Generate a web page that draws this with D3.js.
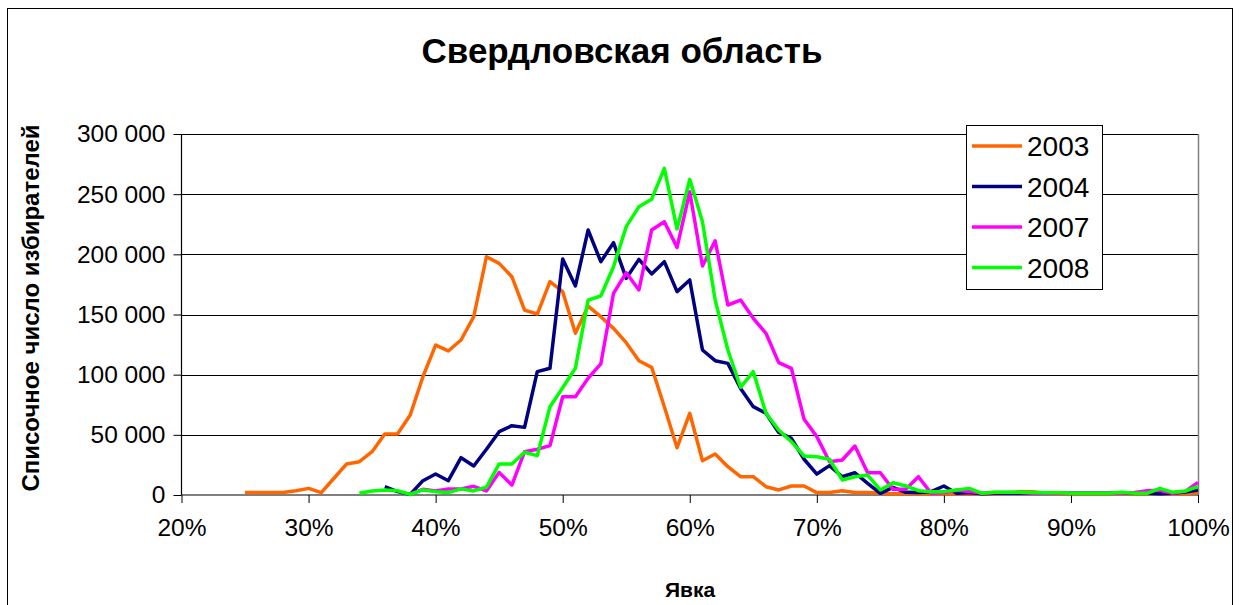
<!DOCTYPE html>
<html>
<head>
<meta charset="utf-8">
<script src="https://cdn.jsdelivr.net/npm/d3@7"></script>
<style>
  body { margin: 0; background: #fff; }
  text { font-family: "Liberation Sans", Arial, sans-serif; }
</style>
</head>
<body>
<svg id="chart"></svg>
<script>
	// явка, %
	var turnout = [25,26,27,28,29,30,31,32,33,34,35,36,37,38,39,40,41,42,43,44,45,46,47,48,49,
		50,51,52,53,54,55,56,57,58,59,60,61,62,63,64,65,66,67,68,69,70,71,72,73,74,
		75,76,77,78,79,80,81,82,83,84,85,86,87,88,89,90,91,92,93,94,95,96,97,98,99,100];

	var years = ["2003", "2004", "2007", "2008"];
	var colors = ["#ff6600", "#000080", "#ff00ff", "#00ff00"];

	// списочное число избирателей по каждому проценту явки (null = нет данных)
	var v2003 = [2000,2000,2000,2000,3600,5500,1900,13900,25800,27700,36000,50700,50700,66500,98300,
		124600,119700,128800,148200,198000,192500,181400,153700,150400,177300,
		169000,134400,157000,148200,138500,126600,111600,106100,73400,39300,
		67900,28500,34100,23500,15200,15200,6900,4200,7500,7500,
		2000,2000,3600,2000,2000,1500,1000,1000,1000,1000,
		1000,1000,1000,1000,1000,1500,2800,2800,1500,1000,
		1000,1000,1000,1000,1000,1000,1000,1000,1000,1000,2000];

	var v2004 = [null,null,null,null,null,null,null,null,null,null,null,6900,2800,500,11900,
		17400,11900,31000,24100,38000,52600,57600,56200,102500,105300,
		196100,173700,220200,193900,209700,180000,195800,183700,193900,169000,
		178700,120500,111600,109400,88600,73400,67900,52000,47100,29700,
		17400,24400,15200,18500,9700,1400,6400,2200,2000,2800,
		7500,1500,2000,1000,1500,1500,1500,1500,1500,1500,
		1500,1500,1500,1500,1500,1500,1500,1000,1500,2500,4200];

	var v2007 = [null,null,null,null,null,null,null,null,null,null,null,null,null,1000,4700,
		3400,5000,5000,7200,3400,18800,8300,36000,38000,41000,
		81700,81700,97000,108900,167600,184700,170400,220200,227100,205800,
		252000,190300,211300,157900,162000,146800,134400,110000,105300,62900,
		48500,27700,29100,40700,18500,18500,4700,4700,15200,1400,
		2000,4000,3000,1500,2000,2000,2000,1500,1500,1500,
		1500,1500,1500,1500,1500,2000,3500,4000,1500,3000,10500];

	var v2008 = [null,null,null,null,null,null,null,null,null,1400,3300,4200,3500,500,4200,
		2800,2000,5100,3400,6500,25800,25800,35500,32700,73400,
		89200,105300,162000,165400,189700,223000,239600,245700,271500,221000,
		262300,227100,162000,120500,89500,102500,67900,54000,44300,32400,
		31800,29700,12500,15200,16600,4200,10200,7500,3600,2800,
		2800,4200,5500,1400,2200,2200,2200,2000,1800,1800,
		1500,1500,1400,1400,2200,1400,1400,5500,2200,3300,6900];

	var xTicks = [20,30,40,50,60,70,80,90,100];
	var yTicks = [0,50000,100000,150000,200000,250000,300000];

	var svgWidth = 1240;
	var svgHeight = 605;
	var plotLeft = 181.5, plotRight = 1198, plotTop = 134, plotBottom = 495;

	var svg = d3.select("#chart")
		.attr("width", svgWidth)
		.attr("height", svgHeight);

	// рамка всей диаграммы
	svg.append("rect")
		.attr("x", 7.5).attr("y", 8.5)
		.attr("width", 1225).attr("height", 620)
		.attr("fill", "#fff").attr("stroke", "#000").attr("stroke-width", 1);

	var xScale = d3.scaleLinear().domain([20, 100]).range([plotLeft, plotRight]);
	var yScale = d3.scaleLinear().domain([0, 300000]).range([plotBottom, plotTop]);

	// сетка
	svg.append("g")
		.selectAll("line")
		.data(yTicks.slice(1))
		.enter()
		.append("line")
		.attr("x1", plotLeft).attr("x2", plotRight)
		.attr("y1", function(d) { return Math.round(yScale(d)) + 0.5; })
		.attr("y2", function(d) { return Math.round(yScale(d)) + 0.5; })
		.attr("stroke", "#000").attr("stroke-width", 1);

	// правая граница области построения
	svg.append("line")
		.attr("x1", plotRight + 0.5).attr("x2", plotRight + 0.5)
		.attr("y1", plotTop).attr("y2", plotBottom)
		.attr("stroke", "#808080").attr("stroke-width", 1.5);

	var fmt = function(d) { return d3.format(",")(d).replace(/,/g, " "); };

	var yAxis = d3.axisLeft(yScale)
		.tickValues(yTicks)
		.tickFormat(fmt)
		.tickSize(8)
		.tickPadding(8);

	var gy = svg.append("g")
		.attr("transform", "translate(" + plotLeft + ",0)")
		.call(yAxis);

	var xAxis = d3.axisBottom(xScale)
		.tickValues(xTicks)
		.tickFormat(function(d) { return d + "%"; })
		.tickSize(8)
		.tickPadding(16);

	var gx = svg.append("g")
		.attr("transform", "translate(0," + plotBottom + ")")
		.call(xAxis);

	[gx, gy].forEach(function(g) {
		g.select(".domain").attr("stroke", "#000").attr("stroke-width", 1.2);
		g.selectAll(".tick line").attr("stroke", "#000");
		g.selectAll(".tick text")
			.attr("font-size", "24.5px")
			.attr("font-family", "Liberation Sans, Arial, sans-serif")
			.attr("fill", "#000");
	});
	gx.select(".domain").attr("d", "M" + plotLeft + ",0H" + plotRight);
	gy.select(".domain").attr("d", "M0," + plotTop + "V" + plotBottom);

	// линии по годам
	var series = [v2003, v2004, v2007, v2008];
	var line = d3.line()
		.defined(function(d) { return d[1] != null; })
		.x(function(d) { return xScale(d[0]); })
		.y(function(d) { return yScale(d[1]); });

	series.forEach(function(vals, i) {
		var pts = turnout.map(function(t, j) { return [t, vals[j]]; });
		svg.append("path")
			.datum(pts)
			.attr("d", line)
			.attr("fill", "none")
			.attr("stroke", colors[i])
			.attr("stroke-width", 3.5)
			.attr("stroke-linejoin", "round");
	});

	// заголовок и подписи осей
	svg.append("text")
		.attr("x", 622).attr("y", 63)
		.attr("text-anchor", "middle")
		.attr("font-size", "35px").attr("font-weight", "bold")
		.text("Свердловская область");

	svg.append("text")
		.attr("transform", "translate(39,308) rotate(-90)")
		.attr("text-anchor", "middle")
		.attr("font-size", "24px").attr("font-weight", "bold")
		.text("Списочное число избирателей");

	svg.append("text")
		.attr("x", 690).attr("y", 597)
		.attr("text-anchor", "middle")
		.attr("font-size", "21px").attr("font-weight", "bold")
		.text("Явка");

	// легенда
	var legend = svg.append("g");
	legend.append("rect")
		.attr("x", 966.5).attr("y", 125.5)
		.attr("width", 136).attr("height", 164)
		.attr("fill", "#fff").attr("stroke", "#000").attr("stroke-width", 1);

	var items = legend.selectAll(".item")
		.data(years)
		.enter()
		.append("g")
		.attr("class", "item")
		.attr("transform", function(d, i) { return "translate(0," + (146 + i * 40.5) + ")"; });

	items.append("line")
		.attr("x1", 972).attr("x2", 1022)
		.attr("stroke", function(d, i) { return colors[i]; })
		.attr("stroke-width", 3.5);

	items.append("text")
		.attr("x", 1027).attr("y", 10)
		.attr("font-size", "28px")
		.text(function(d) { return d; });
</script>
</body>
</html>
